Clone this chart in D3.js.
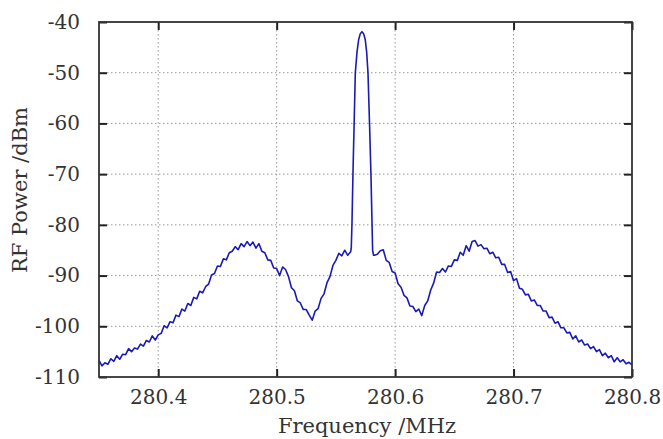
<!DOCTYPE html>
<html>
<head>
<meta charset="utf-8">
<script src="https://cdn.jsdelivr.net/npm/d3@7"></script>
<style>
  html, body { margin: 0; padding: 0; background: #fff; }
  svg { display: block; }
  text { font-family: "DejaVu Serif", "Liberation Serif", serif; fill: #333; }
</style>
</head>
<body>
<svg id="chart" width="663" height="439"></svg>
<script>
// ---- data ----
const freqMHz = [
280.3500,280.3525,280.3550,280.3575,280.3600,280.3625,280.3650,280.3675,280.3700,280.3725,
280.3750,280.3775,280.3800,280.3825,280.3850,280.3875,280.3900,280.3925,280.3950,280.3975,
280.4000,280.4025,280.4050,280.4075,280.4100,280.4125,280.4150,280.4175,280.4200,280.4225,
280.4250,280.4275,280.4300,280.4325,280.4350,280.4375,280.4400,280.4425,280.4450,280.4475,
280.4500,280.4525,280.4550,280.4575,280.4600,280.4625,280.4650,280.4675,280.4700,280.4725,
280.4750,280.4775,280.4800,280.4825,280.4850,280.4875,280.4900,280.4925,280.4950,280.4975,
280.5000,280.5025,280.5050,280.5075,280.5100,280.5125,280.5150,280.5175,280.5200,280.5225,
280.5250,280.5275,280.5300,280.5325,280.5350,280.5375,280.5400,280.5425,280.5450,280.5475,
280.5500,280.5525,280.5550,280.5575,280.5600,280.5625,
280.5630,280.5636,280.5644,280.5654,280.5664,280.5678,280.5692,280.5706,280.5720,280.5734,
280.5748,280.5760,280.5771,280.5784,280.5796,280.5805,280.5810,280.5818,
280.5825,280.5850,280.5875,280.5900,280.5925,280.5950,280.5975,
280.6000,280.6025,280.6050,280.6075,280.6100,280.6125,280.6150,280.6175,280.6200,280.6225,
280.6250,280.6275,280.6300,280.6325,280.6350,280.6375,280.6400,280.6425,280.6450,280.6475,
280.6500,280.6525,280.6550,280.6575,280.6600,280.6625,280.6650,280.6675,280.6700,280.6725,
280.6750,280.6775,280.6800,280.6825,280.6850,280.6875,280.6900,280.6925,280.6950,280.6975,
280.7000,280.7025,280.7050,280.7075,280.7100,280.7125,280.7150,280.7175,280.7200,280.7225,
280.7250,280.7275,280.7300,280.7325,280.7350,280.7375,280.7400,280.7425,280.7450,280.7475,
280.7500,280.7525,280.7550,280.7575,280.7600,280.7625,280.7650,280.7675,280.7700,280.7725,
280.7750,280.7775,280.7800,280.7825,280.7850,280.7875,280.7900,280.7925,280.7950,280.7975,
280.8000
];
const powerDBm = [
-106.7,-107.8,-107.2,-107.5,-106.4,-106.9,-105.8,-106.5,-105.5,-105.6,
-104.4,-105.0,-104.3,-104.5,-103.5,-103.9,-102.8,-103.1,-101.9,-102.7,
-101.7,-101.4,-99.9,-100.3,-99.1,-99.3,-97.8,-98.1,-96.6,-97.0,
-95.5,-95.9,-94.3,-94.6,-93.1,-93.4,-92.2,-91.7,-89.9,-89.6,
-88.1,-88.2,-86.7,-86.9,-85.5,-85.2,-84.3,-84.9,-83.7,-84.3,
-83.3,-84.1,-83.4,-84.6,-83.7,-85.2,-85.5,-86.9,-87.0,-88.5,
-88.6,-90.0,-88.3,-88.8,-90.2,-92.4,-93.0,-95.0,-95.4,-96.7,
-96.7,-97.8,-98.8,-97.0,-96.5,-94.5,-93.6,-91.4,-90.2,-88.0,
-87.0,-85.6,-86.1,-85.0,-86.0,-85.3,
-84.5,-79.6,-70.0,-60.0,-50.0,-46.0,-43.5,-42.3,-41.9,-42.3,
-43.5,-46.0,-50.0,-60.0,-70.0,-79.6,-85.0,-86.0,
-86.0,-85.8,-85.1,-84.9,-87.0,-87.4,-89.2,
-89.5,-91.6,-92.3,-93.9,-94.4,-96.0,-96.1,-97.1,-96.6,-97.9,
-95.9,-95.0,-92.9,-91.5,-89.3,-89.4,-88.6,-89.3,-88.1,-88.2,
-86.9,-87.0,-85.4,-86.0,-84.1,-85.2,-83.3,-83.1,-84.2,-83.9,
-84.7,-84.6,-85.7,-85.4,-86.5,-86.4,-87.8,-87.8,-89.4,-89.2,
-91.0,-90.6,-92.5,-92.7,-93.8,-93.7,-95.0,-94.8,-95.9,-95.9,
-97.0,-97.0,-98.3,-98.2,-99.4,-99.1,-100.3,-100.3,-101.3,-101.2,
-102.5,-101.9,-103.1,-102.7,-103.7,-103.5,-104.4,-104.0,-105.0,-104.6,
-105.8,-105.3,-106.2,-105.8,-107.0,-106.2,-107.0,-106.6,-107.4,-107.1,
-107.6
];
const xTicks = [280.4, 280.5, 280.6, 280.7, 280.8];
const xTickLabels = ["280.4", "280.5", "280.6", "280.7", "280.8"];
const yTicks = [-110, -100, -90, -80, -70, -60, -50, -40];
const yTickLabels = ["-110", "-100", "-90", "-80", "-70", "-60", "-50", "-40"];
const xDomain = [280.35, 280.8];
const yDomain = [-110, -40];
const xTitle = "Frequency /MHz";
const yTitle = "RF Power /dBm";

// ---- layout ----
const W = 663, H = 439;
const m = { left: 99, right: 31, top: 22, bottom: 62 };
const pw = W - m.left - m.right, ph = H - m.top - m.bottom;

const svg = d3.select("#chart");
const g = svg.append("g").attr("transform", `translate(${m.left},${m.top})`);

const x = d3.scaleLinear().domain(xDomain).range([0, pw]);
const y = d3.scaleLinear().domain(yDomain).range([ph, 0]);

// grid
const grid = g.append("g").attr("class", "grid");
grid.selectAll("line.gx").data(xTicks.filter(d => d > xDomain[0] && d < xDomain[1]))
  .join("line").attr("class", "gx")
  .attr("x1", d => x(d)).attr("x2", d => x(d)).attr("y1", 0).attr("y2", ph)
  .attr("stroke", "#999").attr("stroke-width", 1).attr("stroke-dasharray", "1.5,2.5");
grid.selectAll("line.gy").data(yTicks.filter(d => d > yDomain[0] && d < yDomain[1]))
  .join("line").attr("class", "gy")
  .attr("y1", d => y(d)).attr("y2", d => y(d)).attr("x1", 0).attr("x2", pw)
  .attr("stroke", "#999").attr("stroke-width", 1).attr("stroke-dasharray", "1.5,2.5");

// data line
const pts = freqMHz.map((f, i) => [f, powerDBm[i]]);
g.append("path").datum(pts)
  .attr("fill", "none").attr("stroke", "#1a1ab8").attr("stroke-width", 1.6)
  .attr("stroke-linejoin", "round")
  .attr("d", d3.line().x(d => x(d[0])).y(d => y(d[1])));

// axes (ticks inward, mirrored)
const tickLen = 8;
const axB = g.append("g").attr("transform", `translate(0,${ph})`)
  .call(d3.axisBottom(x).tickValues(xTicks).tickSize(-tickLen).tickPadding(13)
    .tickFormat((d, i) => xTickLabels[i]));
const axT = g.append("g")
  .call(d3.axisTop(x).tickValues(xTicks).tickSize(-tickLen).tickFormat(""));
const axL = g.append("g")
  .call(d3.axisLeft(y).tickValues(yTicks).tickSize(-tickLen).tickPadding(19)
    .tickFormat((d, i) => yTickLabels[i]));
const axR = g.append("g").attr("transform", `translate(${pw},0)`)
  .call(d3.axisRight(y).tickValues(yTicks).tickSize(-tickLen).tickFormat(""));

[axB, axT, axL, axR].forEach(a => {
  a.select(".domain").remove();
  a.selectAll(".tick line").attr("stroke", "#222").attr("stroke-width", 2);
  a.selectAll(".tick text").attr("font-size", 20).attr("fill", "#333")
    .style("font-family", '"DejaVu Serif", serif');
});

// frame
g.append("rect").attr("x", 0).attr("y", 0).attr("width", pw).attr("height", ph)
  .attr("fill", "none").attr("stroke", "#333").attr("stroke-width", 1.8);

// titles
svg.append("text").attr("x", 367).attr("y", 433)
  .attr("text-anchor", "middle").attr("font-size", 21).text(xTitle);
svg.append("text")
  .attr("transform", `translate(27,190) rotate(-90)`)
  .attr("text-anchor", "middle").attr("font-size", 21).text(yTitle);
</script>
</body>
</html>
